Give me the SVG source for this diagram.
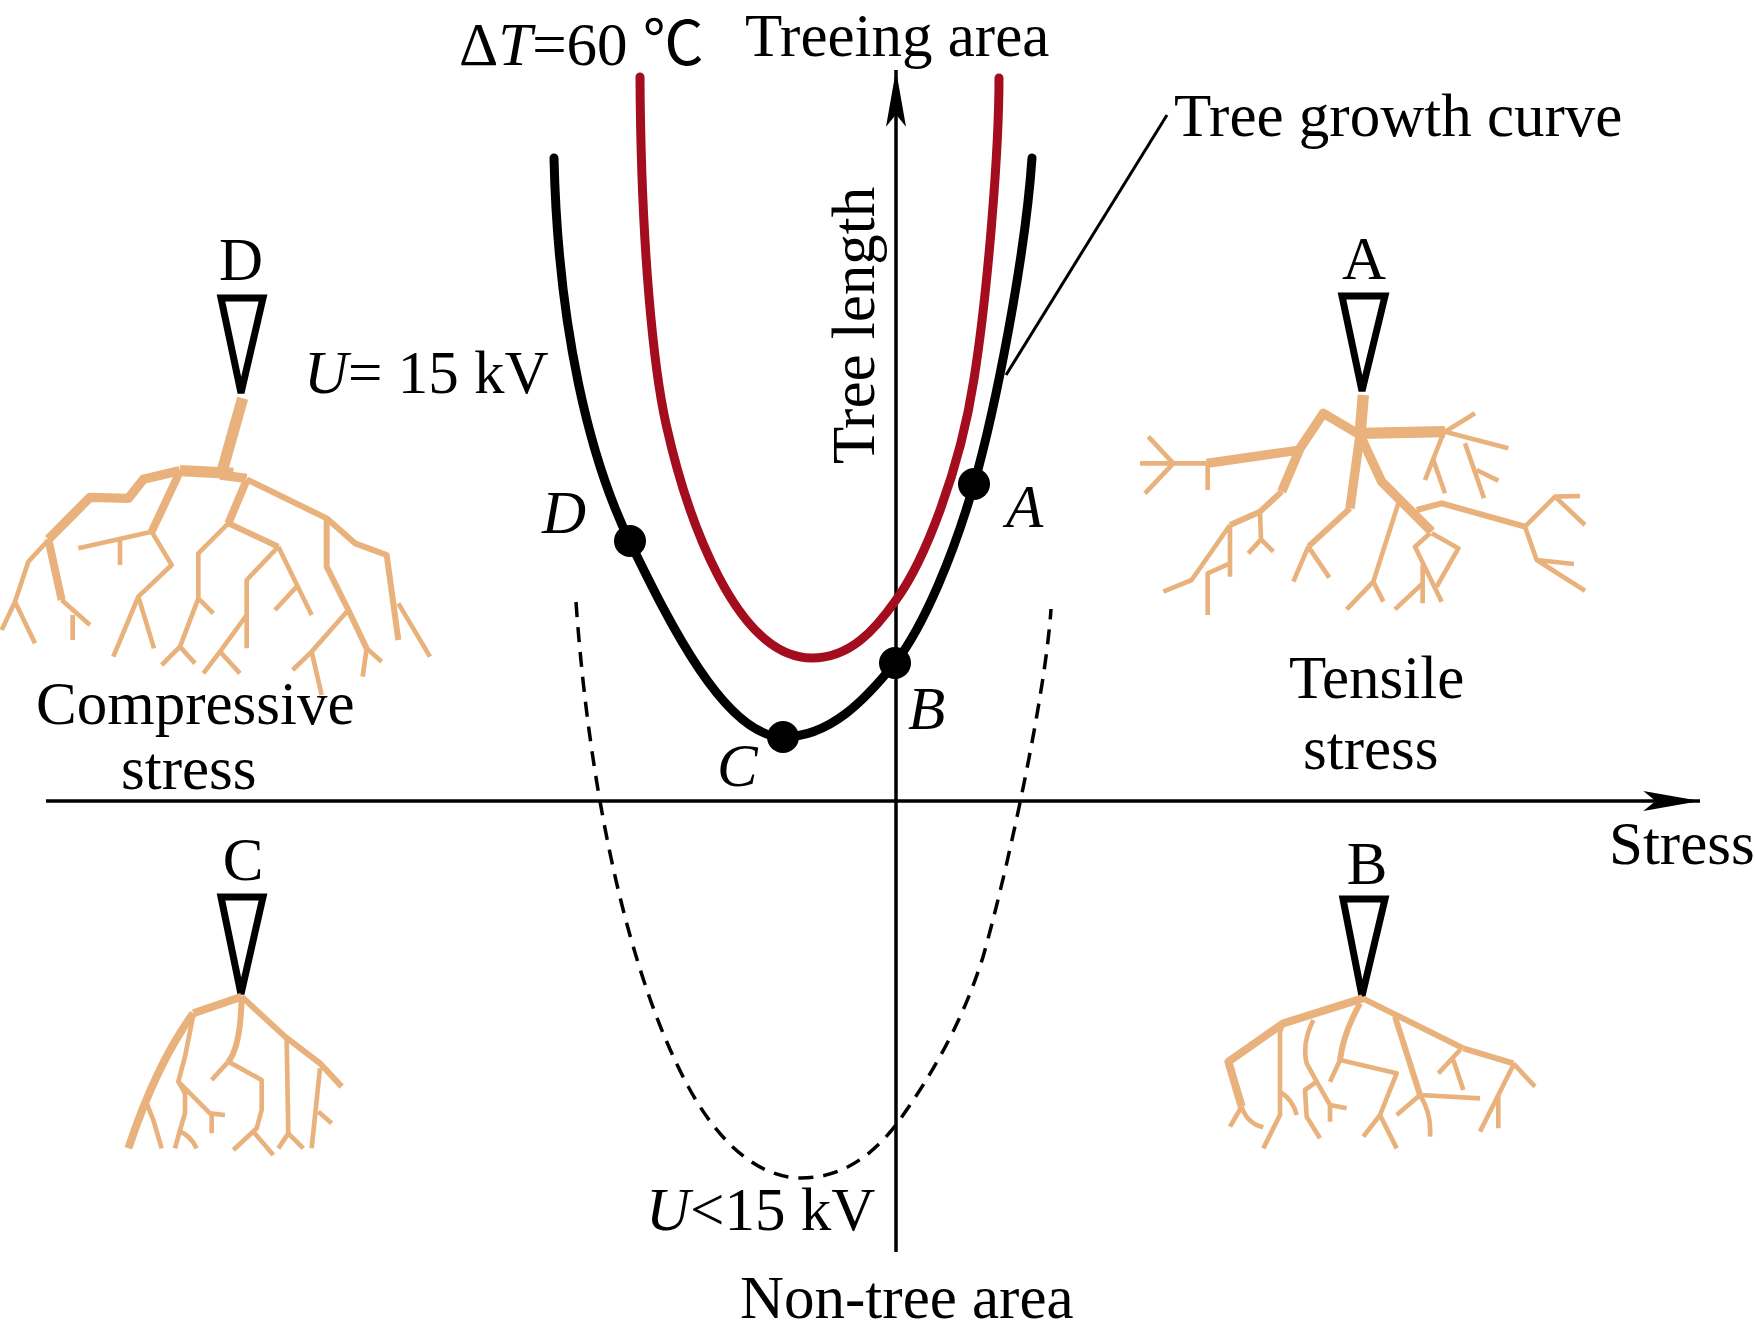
<svg xmlns="http://www.w3.org/2000/svg" width="1755" height="1337" viewBox="0 0 1755 1337">
<style>
text{font-family:"Liberation Serif","Times New Roman",serif;font-size:61px;fill:#000}
.it{font-style:italic}
.tr{fill:none;stroke:#e9b27c;stroke-linejoin:round;stroke-linecap:butt}
.t1{stroke-width:14}
.t2{stroke-width:18}
.t3{stroke-width:24}
.t4{stroke-width:28}
.t5{stroke-width:34}
.ndl{fill:#fff;stroke:#000;stroke-width:7;stroke-linejoin:miter}
.dot{fill:#000}
</style>
<defs>
<marker id="arr" markerUnits="userSpaceOnUse" markerWidth="60" markerHeight="30" viewBox="-52 -10 54 20" refX="0" refY="0" orient="auto">
<path d="M0,0 L-51,-9 L-40,0 L-51,9 Z" fill="#000"/>
</marker>
</defs>
<rect width="1755" height="1337" fill="#fff"/>

<g id="connectors">
<line id="x-axis" x1="46" y1="801" x2="1700" y2="801" stroke="#000" stroke-width="3.5" marker-end="url(#arr)"/>
<line id="y-axis" x1="896" y1="1252" x2="896" y2="70" stroke="#000" stroke-width="3.5" marker-end="url(#arr)"/>
<line id="leader" x1="1167" y1="115" x2="1006" y2="375" stroke="#000" stroke-width="3"/>
</g>

<g id="curves" fill="none">
<path id="curve-dT60" d="M640,77 C641,250 654,370 666,424 C686,514 735,658 812,658 C850,658 875,630 896,600 C925,560 960,470 974,379 C988,290 999,150 999,78" stroke="#a30d1e" stroke-width="9" stroke-linecap="round"/>
<path id="curve-growth" d="M554,158 C558,330 590,460 630,542 C668,620 725,737 783,737 C830,737 865,700 895,663 C925,625 955,550 974,484 C995,410 1025,260 1032,158" stroke="#000" stroke-width="9" stroke-linecap="round"/>
<path id="curve-low" d="M576,602 C590,800 630,980 689,1088 C720,1145 760,1178 801,1178 C840,1178 870,1158 896,1125 C925,1085 960,1030 983,957 C1005,880 1045,700 1051,609" stroke="#000" stroke-width="3.5" stroke-dasharray="15,10"/>
<circle class="dot" cx="630" cy="541" r="16"/>
<circle class="dot" cx="783" cy="737" r="16"/>
<circle class="dot" cx="895" cy="663" r="16"/>
<circle class="dot" cx="974" cy="484" r="16"/>
</g>

<g id="labels">
<text x="459" y="65">Δ<tspan class="it">T</tspan>=60 <tspan style="font-family:'Liberation Serif','Noto Sans CJK SC',sans-serif">℃</tspan></text>
<text x="745" y="56">Treeing area</text>
<text x="1174" y="136">Tree growth curve</text>
<text transform="translate(874,464) rotate(-90)">Tree length</text>
<text x="304" y="393"><tspan class="it">U</tspan>= 15 kV</text>
<text class="it" x="542" y="533">D</text>
<text class="it" x="1006" y="527">A</text>
<text class="it" x="908" y="729">B</text>
<text class="it" x="717" y="786">C</text>
<text x="36" y="724">Compressive</text>
<text x="121" y="789">stress</text>
<text x="1289" y="698">Tensile</text>
<text x="1303" y="769">stress</text>
<text x="1609" y="864">Stress</text>
<text x="646" y="1230"><tspan class="it">U</tspan>&lt;15 kV</text>
<text x="740" y="1318">Non-tree area</text>
</g>

<g id="tree-D">
<text x="241" y="280" text-anchor="middle">D</text>
<polygon class="ndl" points="221,298 263,298 241,393"/>
<g transform="translate(0,380) scale(0.33333)">
<path class="tr t5" d="M728,55 L668,268"/>
<path class="tr t5" d="M700,280 L540,272"/>
<path class="tr t4" d="M540,272 L430,298 L385,355 L270,352 L145,478"/>
<path class="tr t3" d="M145,478 L185,660"/>
<path class="tr t4" d="M660,285 L740,295"/>
<path class="tr t2" d="M740,298 L980,415 L980,560 L1045,690 L1100,805"/>
<path class="tr t2" d="M980,415 L1065,490 L1160,525 L1195,780"/>
<path class="tr t3" d="M740,300 L685,430"/>
<path class="tr t2" d="M685,430 L835,500"/>
<path class="tr t3" d="M535,285 L455,455"/>
<path class="tr t1" d="M835,500 L935,705 M835,500 L740,600 L740,805 M685,430 L595,520 L595,655 L540,800 M455,455 L235,505 M360,480 L360,555 M455,455 L515,555 L415,650 L340,830 M415,650 L462,805 M145,480 L85,545 L45,665 L5,750 M45,665 L105,790 M185,660 L270,735 M218,705 L218,780 M595,655 L640,700 M540,800 L485,855 M540,800 L585,850 M740,705 L660,815 L610,880 M660,815 L720,880 M890,620 L825,690 M1045,690 L935,815 L878,870 M935,815 L965,945 M1100,805 L1145,845 M1100,805 L1088,890 M1195,670 L1290,830"/>
</g>
</g>

<g id="tree-A">
<text x="1364" y="279" text-anchor="middle">A</text>
<polygon class="ndl" points="1342,296 1385,296 1362,391"/>
<g transform="translate(1130,380) scale(0.33333)">
<path class="tr t5" d="M700,45 L690,165"/>
<path class="tr t4" d="M690,165 L580,100 L510,205 L455,335"/>
<path class="tr t5" d="M690,160 L945,155"/>
<path class="tr t4" d="M510,210 L230,250"/>
<path class="tr t4" d="M690,165 L660,385"/>
<path class="tr t2" d="M660,385 L535,500"/>
<path class="tr t4" d="M690,165 L755,305 L820,370 L905,455"/>
<path class="tr t2" d="M860,390 L935,370 L1185,440"/>
<path class="tr t2" d="M455,335 L390,395 L300,435"/>
<path class="tr t1" d="M230,250 L30,250 M130,250 L55,170 M130,250 L45,340 M233,255 L233,330 M945,155 L1035,100 M945,155 L1135,205 M940,160 L885,300 M910,240 L945,340 M1005,190 L1062,355 M1040,270 L1105,302 M535,500 L490,605 M535,500 L598,593 M1185,440 L1275,350 L1350,348 M1275,350 L1365,435 M1185,440 L1220,540 L1365,632 M1220,540 L1332,552 M805,370 L730,605 L650,688 M730,605 L760,665 M905,460 L985,505 L920,620 M900,460 L855,500 L935,665 M878,555 L878,670 M878,610 L795,688 M300,435 L185,600 L100,635 M390,395 L393,478 L355,520 M393,478 L430,515 M300,435 L300,590 M300,550 L233,580 L233,705"/>
</g>
</g>

<g id="tree-C">
<text x="243" y="880" text-anchor="middle">C</text>
<polygon class="ndl" points="221,897 263,897 241,994"/>
<g transform="translate(110,980) scale(0.33333)">
<path class="tr t3" d="M395,50 L250,100"/>
<path class="tr t3" d="M250,100 Q140,250 55,505"/>
<path class="tr t2" d="M395,50 L525,170 L630,250 L695,320"/>
<path class="tr t2" d="M395,50 Q392,200 355,245"/>
<path class="tr t1" d="M355,245 L305,300 M355,245 L455,300 L455,390 L440,445 L370,510 M430,455 L490,525 M250,105 L225,230 L205,305 L225,340 L225,400 L210,450 L195,505 M205,305 L300,400 L345,405 M305,400 L305,460 M210,455 Q240,465 260,505 M108,365 L130,420 L155,505 M530,180 L535,460 L505,505 M535,460 L580,505 M630,265 L605,505 M625,395 L665,430"/>
</g>
</g>

<g id="tree-B">
<text x="1367" y="884" text-anchor="middle">B</text>
<polygon class="ndl" points="1343,899 1385,899 1362,996"/>
<g transform="translate(1220,990) scale(0.33333)">
<path class="tr t3" d="M428,25 L190,100 L25,215 L65,350"/>
<path class="tr t2" d="M428,25 L730,175"/>
<path class="tr t2" d="M730,175 L880,220"/>
<path class="tr t2" d="M420,40 Q370,130 360,210"/>
<path class="tr t2" d="M525,80 L600,315"/>
<path class="tr t1" d="M65,350 L30,410 M65,350 Q80,400 130,412 M880,220 L945,290 M880,225 L780,425 M835,320 L835,415 M720,180 L655,250 M700,210 L730,300 M360,210 L330,275 M360,210 L530,250 L480,375 L430,440 M480,375 L530,475 M600,315 L780,325 M600,315 L530,375 M600,315 Q635,370 630,440 M190,100 L180,125 L180,375 L130,475 M180,305 Q220,330 230,375 M280,90 Q245,160 260,220 L290,275 L255,300 L260,380 L300,445 M290,275 L330,345 L330,395 M330,345 L380,355"/>
</g>
</g>
</svg>
